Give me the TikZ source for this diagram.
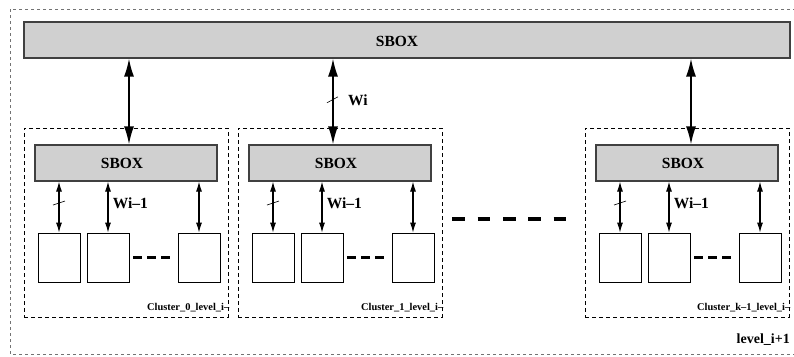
\documentclass[tikz,border=0pt]{standalone}
\usepackage{fontspec}
\setmainfont{Liberation Serif}
\usetikzlibrary{arrows.meta,positioning}
\definecolor{sboxgray}{RGB}{208,208,208}

\begin{document}
\begin{tikzpicture} [x=1pt, y=-1pt,
      font=\bfseries\fontsize{15.5}{18}\selectfont,
      outer/.style={draw=black!55, line width=0.7pt, dash pattern=on 3pt off 3pt},
      cluster/.style={draw, line width=0.8pt, dash pattern=on 4pt off 3pt, inner sep=0pt,
          minimum width=204pt, minimum height=189pt},
      sbox/.style={draw=black!75, line width=1.2pt, fill=sboxgray, inner sep=0pt, minimum height=36pt},
      pe/.style={draw, line width=0.8pt, inner sep=0pt, minimum width=42pt, minimum height=49pt},
      bigarrow/.style={{Latex[length=18pt,width=10pt]}-{Latex[length=18pt,width=10pt]}, line width=1.6pt},
      smallarrow/.style={{Latex[length=10pt,width=6pt]}-{Latex[length=10pt,width=6pt]}, line width=1.1pt},
      slash/.style={line width=0.6pt},
      pedots/.style={line width=3.5pt, dash pattern=on 9pt off 5pt},
      cldots/.style={line width=4pt, dash pattern=on 12.7pt off 12.6pt},
      clname/.style={anchor=base east, inner sep=0pt, font=\bfseries\fontsize{10.4}{12}\selectfont}]

      \clip (0,0) rectangle (794,356);
      \draw[outer] (10,9) rectangle (820,354);

      \node[sbox, minimum width=766pt] (sbtop) at (407,40) {};
      \node (sbtoptext) at (397,41) {SBOX};

      \foreach \c/\x/\ax/\cname in {0/24/105/0, 1/238/95/1, k/585/106/k--1} {
          \node[cluster] (cl\c) at (\x+102,222.5) {};
          \node[sbox, minimum width=182pt] (sb\c) at (\x+102,163) {};
          \node (sbtext\c) at (\x+98,163) {SBOX};
          \node[pe] (pe\c a) at (\x+35,257.5) {};
          \node[pe] (pe\c b) at (\x+84,257.5) {};
          \node[pe] (pe\c c) at (\x+175,257.5) {};
          \coordinate (ar\c) at (\x+\ax,100);
          \draw[bigarrow] (sbtop.south -| ar\c) -- coordinate[pos=0.48] (wb\c) (sb\c.north -| ar\c);
          \draw[smallarrow] (sb\c.south -| pe\c a.north) -- coordinate[pos=0.42] (ws\c) (pe\c a.north);
          \draw[slash] ([shift={(-6,2)}]ws\c) -- ++(12,-4);
          \draw[smallarrow] (sb\c.south -| pe\c b.north) -- node[pos=0.42, right=1pt] (wlab\c) {Wi--1} (pe\c b.north);
          \draw[smallarrow] (sb\c.south -| pe\c c.north) -- (pe\c c.north);
          \draw[pedots] ([xshift=4pt]pe\c b.east) -- ([xshift=-8pt]pe\c c.west);
          \node[clname] (cn\c) at ([xshift=1pt,yshift=7pt]cl\c.south east) {Cluster\_\cname\_level\_i--};
      }

      \draw[slash] ([shift={(-6,3)}]wb1) -- ++(11,-6);
      \node[anchor=west, inner sep=0pt] (wi) at ([xshift=15pt]wb1) {Wi};
      \draw[cldots] ([xshift=10pt,yshift=3.5pt]cl1.east) -- ([xshift=-19pt,yshift=3.5pt]clk.west);
      \node[anchor=base east, inner sep=0pt, font=\bfseries\fontsize{14}{16}\selectfont] (lvl) at (790,343) {level\_i+1};
\end{tikzpicture}
\end{document}
